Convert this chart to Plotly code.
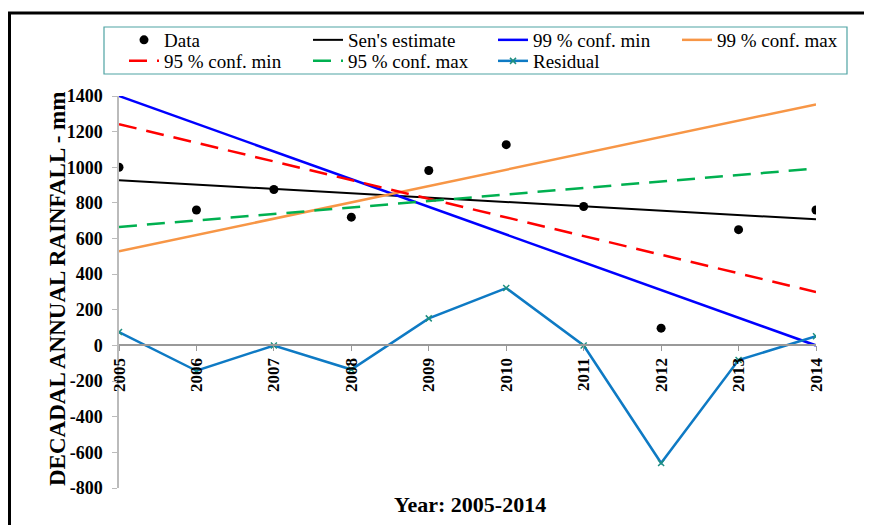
import plotly.graph_objects as go

years = [2005, 2006, 2007, 2008, 2009, 2010, 2011, 2012, 2013, 2014]
data_vals = [1000, 760, 875, 720, 982, 1127, 780, 97, 650, 760]
sen_est = [927, 903, 878, 854, 830, 805, 781, 757, 732, 708]
conf99_min = [1400, 1244, 1089, 933, 778, 622, 467, 311, 156, 0]
conf99_max = [528, 620, 711, 803, 895, 986, 1078, 1170, 1261, 1353]
conf95_min = [1242, 1137, 1033, 928, 823, 719, 614, 509, 405, 300]
conf95_max = [665, 701, 738, 774, 811, 847, 884, 920, 957, 993]
residual = [75, -142, 0, -135, 152, 322, 0, -660, -82, 52]
y_ticks = [1400, 1200, 1000, 800, 600, 400, 200, 0, -200, -400, -600, -800]
y_tick_text = ["1400", "1200", "1000", "800", "600", "400", "200", "0",
               "-200", "-400", "-600", "-800"]

FONT = "Liberation Serif"
OFF = 8  # page body margin
W, H = 872, 525
# plot area in window pixels: x 119..816, y 96..488
L = 119 - OFF
T = 96 - OFF
R = W - (816 - OFF)
B = H - (488 - OFF)
pw, ph = W - L - R, H - T - B

def wx(p):
    return (p - OFF - L) / pw

def wy(p):
    return (H - B - (p - OFF)) / ph

fig = go.Figure()
fig.add_trace(go.Scatter(x=years, y=data_vals, mode="markers", name="Data",
                         marker=dict(color="black", size=9), legend="legend"))
fig.add_trace(go.Scatter(x=years, y=sen_est, mode="lines", name="Sen's estimate",
                         line=dict(color="black", width=2), legend="legend2"))
fig.add_trace(go.Scatter(x=years, y=conf99_min, mode="lines", name="99 % conf. min",
                         line=dict(color="#0000FF", width=2.5), legend="legend3"))
fig.add_trace(go.Scatter(x=years, y=conf99_max, mode="lines", name="99 % conf. max",
                         line=dict(color="#F79646", width=2.5), legend="legend4"))
fig.add_trace(go.Scatter(x=years, y=conf95_min, mode="lines", name="95 % conf. min",
                         line=dict(color="#FF0000", width=2.5, dash="18px,10px"),
                         legend="legend5"))
fig.add_trace(go.Scatter(x=years, y=conf95_max, mode="lines", name="95 % conf. max",
                         line=dict(color="#00B050", width=2.5, dash="18px,10px"),
                         legend="legend6"))
fig.add_trace(go.Scatter(x=years, y=residual, mode="lines+markers", name="Residual",
                         line=dict(color="#0E7AC4", width=2.5),
                         marker=dict(symbol="x-thin", size=6, color="#1F8F80",
                                     line=dict(color="#1F8F80", width=1.5)),
                         legend="legend7"))

leg_common = dict(orientation="h", xanchor="left", yanchor="middle",
                  font=dict(family=FONT, size=19, color="black"),
                  borderwidth=0, bgcolor="rgba(0,0,0,0)",
                  tracegroupgap=0, itemwidth=30)

# text start positions (window px) of legend columns and rows
col_x = [164, 348, 533, 717]
row_y = [40, 61]
legend_slots = [(0, 0), (0, 1), (0, 2), (0, 3), (1, 0), (1, 1), (1, 2)]
legends = {}
for i, (r, c) in enumerate(legend_slots):
    key = "legend" if i == 0 else f"legend{i + 1}"
    legends[key] = dict(leg_common, x=wx(col_x[c] - 40), y=wy(row_y[r]))

fig.update_layout(
    width=W, height=H,
    margin=dict(l=L, r=R, t=T, b=B, autoexpand=False),
    paper_bgcolor="white", plot_bgcolor="white",
    font=dict(family=FONT, color="black"),
    showlegend=True,
    **legends,
    xaxis=dict(range=[2005, 2014], tickmode="array", tickvals=years,
               ticktext=[str(y) for y in years], tickangle=-90,
               tickfont=dict(family=FONT, size=17, color="black", weight="bold"),
               showline=True, linecolor="#999999", linewidth=1.5,
               ticks="outside", ticklen=5, tickcolor="#999999",
               showgrid=False, zeroline=False,
               anchor="free", position=800 / 2200),
    yaxis=dict(range=[-800, 1400], tickmode="array", tickvals=y_ticks,
               ticktext=y_tick_text,
               tickfont=dict(family=FONT, size=18, color="black", weight="bold"),
               showline=True, linecolor="#BBBBBB", linewidth=1.5,
               ticks="outside", ticklen=5, tickcolor="#BBBBBB",
               ticklabelstandoff=6,
               showgrid=False, zeroline=False),
    annotations=[
        dict(text="<b>DECADAL ANNUAL RAINFALL - mm</b>", x=wx(57), y=wy(289),
             xref="paper", yref="paper", textangle=-90, showarrow=False,
             xanchor="center", yanchor="middle",
             font=dict(family=FONT, size=23, color="black")),
        dict(text="<b>Year: 2005-2014</b>", x=wx(470), y=wy(505),
             xref="paper", yref="paper", showarrow=False,
             xanchor="center", yanchor="middle",
             font=dict(family=FONT, size=22, color="black")),
    ],
    shapes=[
        dict(type="rect", xref="paper", yref="paper",
             x0=wx(9.5), x1=wx(890), y0=wy(540), y1=wy(13),
             line=dict(color="black", width=3), fillcolor="rgba(0,0,0,0)",
             layer="above"),
        dict(type="rect", xref="paper", yref="paper",
             x0=wx(104), x1=wx(847), y0=wy(74), y1=wy(27),
             line=dict(color="#4FA3A3", width=1.2), fillcolor="rgba(0,0,0,0)",
             layer="above"),
    ],
)

fig.write_html("out.html")
